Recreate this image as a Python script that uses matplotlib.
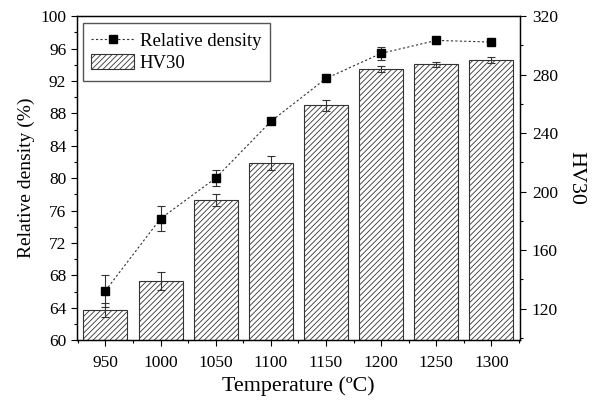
import numpy as np
import matplotlib.pyplot as plt
from matplotlib.ticker import MultipleLocator

plt.rcParams['font.family'] = ['Liberation Serif', 'DejaVu Serif']
plt.rcParams['hatch.color'] = '#555555'
plt.rcParams['hatch.linewidth'] = 0.6

# 数据
temps = np.array([950, 1000, 1050, 1100, 1150, 1200, 1250, 1300])
density = np.array([66.1, 75.0, 80.0, 87.0, 92.3, 95.4, 97.0, 96.8])
density_err = np.array([2.0, 1.5, 1.0, 0.0, 0.0, 0.8, 0.45, 0.0])
hv30 = np.array([119, 139, 194.5, 219.5, 259, 284, 287, 290])
hv30_err = np.array([5.0, 6.0, 4.0, 5.0, 4.0, 2.2, 1.7, 1.8])

fig, ax = plt.subplots(figsize=(5.95, 4.03), dpi=100)
fig.subplots_adjust(left=0.129, right=0.874, top=0.960, bottom=0.156)
ax2 = ax.twinx()

# 硬度柱状图 (右轴)
bars = ax2.bar(temps, hv30, width=40, color='white', edgecolor='#333333',
               linewidth=0.8, hatch='//////', label='HV30')
ax2.errorbar(temps, hv30, yerr=hv30_err, fmt='none', ecolor='#333333',
             elinewidth=0.8, capsize=3, capthick=0.8)

# 相对密度 (左轴)
ax.errorbar(temps, density, yerr=density_err, fmt='none',
            ecolor='#333333', elinewidth=0.8, capsize=3, capthick=0.8)
ln, = ax.plot(temps, density, linestyle=(0, (2, 2)), color='#333333',
              linewidth=0.8, marker='s', markersize=6,
              markerfacecolor='black', markeredgecolor='black',
              label='Relative density')

ax.set_zorder(ax2.get_zorder() + 1)
ax.patch.set_visible(False)

ax.set_xlim(924, 1326)
ax.set_ylim(60, 100)
ax2.set_ylim(98.5, 320)

ax.xaxis.set_major_locator(MultipleLocator(50))
ax.xaxis.set_minor_locator(MultipleLocator(25))
ax.yaxis.set_major_locator(MultipleLocator(4))
ax.yaxis.set_minor_locator(MultipleLocator(2))
ax2.set_yticks([120, 160, 200, 240, 280, 320])
ax2.yaxis.set_minor_locator(MultipleLocator(20))

for a in (ax, ax2):
    a.tick_params(which='major', direction='out', length=4.5, width=0.8,
                  labelsize=12.5)
    a.tick_params(which='minor', direction='out', length=2.5, width=0.8)
    for s in a.spines.values():
        s.set_linewidth(0.9)
ax.tick_params(axis='x', which='major', pad=6)
ax.tick_params(axis='y', which='major', pad=3)
ax2.tick_params(axis='y', which='major', pad=4)

ax.set_xlabel('Temperature (ºC)', fontsize=15.8, labelpad=4)
ax.set_ylabel('Relative density (%)', fontsize=14, labelpad=4)
ax2.set_ylabel('HV30', fontsize=15.8, rotation=270, labelpad=20)

ax.legend([ln, bars], ['Relative density', 'HV30'], loc='upper left',
          fontsize=13.5, frameon=True, fancybox=False, edgecolor='#555555',
          framealpha=1, borderpad=0.45, handlelength=2.3,
          handleheight=0.85, handletextpad=0.3, labelspacing=0.25,
          borderaxespad=0, bbox_to_anchor=(0.013, 0.978))

plt.savefig('out.png', dpi=100)
